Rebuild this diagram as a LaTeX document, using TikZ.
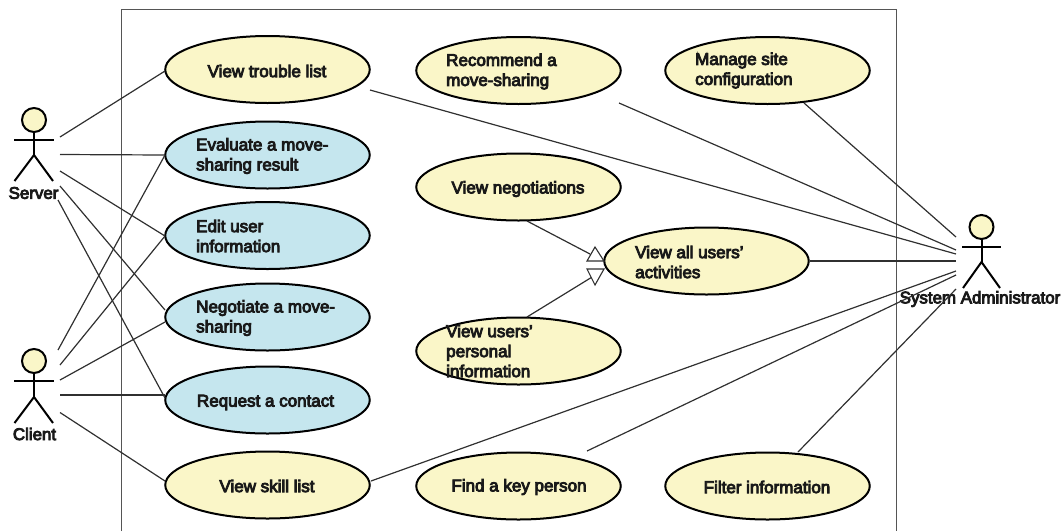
\documentclass[tikz,border=0pt]{standalone}
\usepackage{fontspec}
\setmainfont{Liberation Sans}[BoldFont={Liberation Sans},BoldFeatures={FakeBold=5}]
\usetikzlibrary{shapes.geometric}
\definecolor{ucyellow}{HTML}{FAF6C8}
\definecolor{ucblue}{HTML}{C5E6EE}
\definecolor{linegray}{HTML}{303030}
\definecolor{framegray}{HTML}{555555}
\tikzset{
  usecase/.style={ellipse,draw=black,line width=2pt,minimum width=204.5pt,minimum height=67pt,inner sep=0pt},
  yellowcase/.style={usecase,fill=ucyellow},
  bluecase/.style={usecase,fill=ucblue},
  uctext/.style={inner sep=0pt,align=left,font=\bfseries\fontsize{17}{20}\selectfont,text=black!90},
  actortext/.style={uctext,font=\bfseries\fontsize{16.9}{18}\selectfont},
  assoc/.style={draw=linegray,line width=1.2pt},
  limb/.style={draw=black,line width=2pt},
  head/.style={circle,draw=black,line width=2pt,fill=ucyellow,minimum size=24pt,inner sep=0pt},
  hollow/.style={draw=linegray,line width=1.1pt,fill=white},
  frameline/.style={draw=framegray,line width=1pt}
}
\begin{document}
\begin{tikzpicture}[x=1pt,y=-1pt]
\useasboundingbox (0,0) rectangle (1064,531);
\coordinate (fbl) at (121,531);
\coordinate (ftl) at (121,9.5);
\coordinate (ftr) at (896,9.5);
\coordinate (fbr) at (896,531);
\draw[frameline] (fbl) -- (ftl) -- (ftr) -- (fbr);

% use cases
\node[yellowcase] (trouble) at (267.5,69.5) {};
\node[bluecase] (evaluate) at (267.5,155) {};
\node[bluecase] (edit) at (267.5,235.5) {};
\node[bluecase] (negotiate) at (267.5,317) {};
\node[bluecase] (request) at (267.5,400) {};
\node[yellowcase] (skill) at (267.5,485) {};
\node[yellowcase] (recommend) at (518.5,70.5) {};
\node[yellowcase] (manage) at (767.5,70.5) {};
\node[yellowcase] (negotiations) at (518.5,187) {};
\node[yellowcase] (allact) at (706.5,261) {};
\node[yellowcase] (personal) at (518.5,351) {};
\node[yellowcase] (findkey) at (518.5,486) {};
\node[yellowcase] (filter) at (767.5,486) {};

% texts
\node[uctext] (t-trouble) at (267,71) {View trouble list};
\node[uctext,anchor=west] (t-evaluate) at (196,156) {Evaluate a move-\\sharing result};
\node[uctext,anchor=west] (t-edit) at (196,236) {Edit user\\information};
\node[uctext,anchor=west] (t-negotiate) at (196,318) {Negotiate a move-\\sharing};
\node[uctext] (t-request) at (265.5,402.5) {Request a contact};
\node[uctext] (t-skill) at (267,486) {View skill list};
\node[uctext,anchor=west] (t-recommend) at (446,71.5) {Recommend a\\move-sharing};
\node[uctext,anchor=west] (t-manage) at (695,70.5) {Manage site\\configuration};
\node[uctext] (t-negotiations) at (518,189) {View negotiations};
\node[uctext,anchor=west] (t-allact) at (635,262) {View all users'\\activities};
\node[uctext,anchor=west] (t-personal) at (446,351) {View users'\\personal\\information};
\node[uctext] (t-findkey) at (519,487) {Find a key person};
\node[uctext] (t-filter) at (767,487) {Filter information};

% actors
\node[head] (server) at (34,120) {};
\coordinate (server-hip) at (34,155);
\coordinate (server-al) at (14,140);
\coordinate (server-ar) at (53.5,140);
\coordinate (server-ll) at (14.5,181);
\coordinate (server-lr) at (53,181);
\draw[limb] (server.south) -- (server-hip);
\draw[limb] (server-al) -- (server-ar);
\draw[limb] (server-ll) -- (server-hip) -- (server-lr);
\node[actortext] (server-label) at (33.5,193) {Server};

\node[head] (client) at (34,361) {};
\coordinate (client-hip) at (34,397);
\coordinate (client-al) at (14,381);
\coordinate (client-ar) at (53.5,381);
\coordinate (client-ll) at (14.5,423);
\coordinate (client-lr) at (53,423);
\draw[limb] (client.south) -- (client-hip);
\draw[limb] (client-al) -- (client-ar);
\draw[limb] (client-ll) -- (client-hip) -- (client-lr);
\node[actortext] (client-label) at (34.5,434) {Client};

\node[head] (admin) at (981.5,227) {};
\coordinate (admin-hip) at (981.5,262);
\coordinate (admin-al) at (962,247);
\coordinate (admin-ar) at (1001,247);
\coordinate (admin-ll) at (963,288);
\coordinate (admin-lr) at (1000,288);
\draw[limb] (admin.south) -- (admin-hip);
\draw[limb] (admin-al) -- (admin-ar);
\draw[limb] (admin-ll) -- (admin-hip) -- (admin-lr);
\node[actortext] (admin-label) at (980,299) {System Administrator};

% connector ends at the actors
\coordinate (s1) at (60,137); \coordinate (s2) at (60,154.5); \coordinate (s3) at (60,171);
\coordinate (s4) at (60,186); \coordinate (s5) at (58,200);
\coordinate (c1) at (58,350); \coordinate (c2) at (60,365); \coordinate (c3) at (60,380);
\coordinate (c4) at (60,395); \coordinate (c5) at (60,412.5);
\coordinate (a1) at (956,237); \coordinate (a2) at (956,250); \coordinate (a3) at (956,254);
\coordinate (a4) at (956,261); \coordinate (a5) at (956,271); \coordinate (a6) at (956,275);
\coordinate (a7) at (956,289);
% connector ends at the use cases
\coordinate (e-tr) at (370,90); \coordinate (e-rc) at (619,103); \coordinate (e-fk) at (587,451);
\coordinate (e-ma) at (804,103); \coordinate (e-fi) at (798,452); \coordinate (e-sk) at (371,481);
\coordinate (e-ne) at (165,310); \coordinate (e-ne2) at (165,322); \coordinate (e-rq) at (165,398);
\coordinate (e-rq2) at (165,395); \coordinate (e-sk2) at (165,481);
\coordinate (e-tr2) at (165,71); \coordinate (e-ev) at (165,155); \coordinate (e-ed) at (165,236);
\coordinate (e-no) at (527,221); \coordinate (e-pe) at (527,317);

\draw[assoc] (s1) -- (e-tr2);
\draw[assoc] (s2) -- (e-ev);
\draw[assoc] (s3) -- (e-ed);
\draw[assoc] (s4) -- (e-ne);
\draw[assoc] (s5) -- (e-rq);
\draw[assoc] (c1) -- (e-ev);
\draw[assoc] (c2) -- (e-ed);
\draw[assoc] (c3) -- (e-ne2);
\draw[assoc] (c4) -- (e-rq2);
\draw[assoc] (c5) -- (e-sk2);
\draw[assoc] (e-ma) -- (a1);
\draw[assoc] (e-rc) -- (a2);
\draw[assoc] (e-tr) -- (a3);
\draw[assoc] (allact.east) -- (a4);
\draw[assoc] (e-sk) -- (a5);
\draw[assoc] (e-fk) -- (a6);
\draw[assoc] (e-fi) -- (a7);

% generalizations
\coordinate (g1a) at (595,247); \coordinate (g1b) at (604,261); \coordinate (g1c) at (587,261);
\coordinate (g2a) at (595,285); \coordinate (g2b) at (604,269); \coordinate (g2c) at (587,269);
\coordinate (g1m) at (590,254); \coordinate (g2m) at (597,274);
\draw[assoc] (e-no) -- (g1m);
\draw[assoc] (e-pe) -- (g2m);
\draw[hollow] (g1a) -- (g1b) -- (g1c) -- cycle;
\draw[hollow] (g2a) -- (g2b) -- (g2c) -- cycle;
\end{tikzpicture}
\end{document}
